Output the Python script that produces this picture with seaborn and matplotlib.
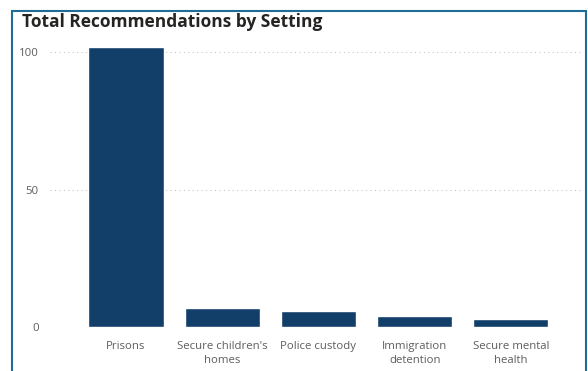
import matplotlib
matplotlib.use("Agg")
import matplotlib.pyplot as plt
import seaborn as sns
import pandas as pd
from matplotlib.patches import Rectangle

categories = ["Prisons", "Secure children's\nhomes", "Police custody", "Immigration\ndetention", "Secure mental\nhealth"]
values = [102, 7, 6, 4, 3]
yticks = [0, 50, 100]

df = pd.DataFrame({"setting": categories, "total": values})

sns.set_style("white")
plt.rcParams['font.family'] = ['Open Sans', 'DejaVu Sans']

W, H = 588, 371
fig = plt.figure(figsize=(W / 100, H / 100), dpi=100)
ax = fig.add_axes([50 / W, 1 - 327.3 / H, (584 - 50) / W, (327.3 - 38.5) / H])

sns.barplot(data=df, x="setting", y="total", color="#123F69", width=0.78,
            saturation=1, ax=ax, order=categories)

ax.set_ylim(0, 105)
ax.set_xlim(-0.79, 4.76)
ax.set_yticks(yticks)
ax.set_yticklabels([str(t) for t in yticks])
ax.set_xlabel("")
ax.set_ylabel("")
for s in ax.spines.values():
    s.set_visible(False)
ax.grid(axis="y", color="#c8c8c8", linestyle=(0, (1, 3)), linewidth=0.8)
ax.set_axisbelow(True)
ax.tick_params(axis="both", length=0, labelsize=8.2, colors="#605e5c")
ax.tick_params(axis="y", pad=8)
ax.tick_params(axis="x", pad=10)
for lbl in ax.get_xticklabels():
    lbl.set_linespacing(1.4)

fig.text(22 / W, 1 - 22 / H, "Total Recommendations by Setting", fontsize=12.5,
         fontweight="bold", color="#252423", ha="left", va="center")

fig.patches.append(Rectangle((12 / W, -0.05), (586 - 12) / W, 1.05 - 11 / H,
                             transform=fig.transFigure, fill=False,
                             edgecolor="#1F6C97", linewidth=1.5))

fig.savefig("out.png", dpi=100, facecolor="white")
